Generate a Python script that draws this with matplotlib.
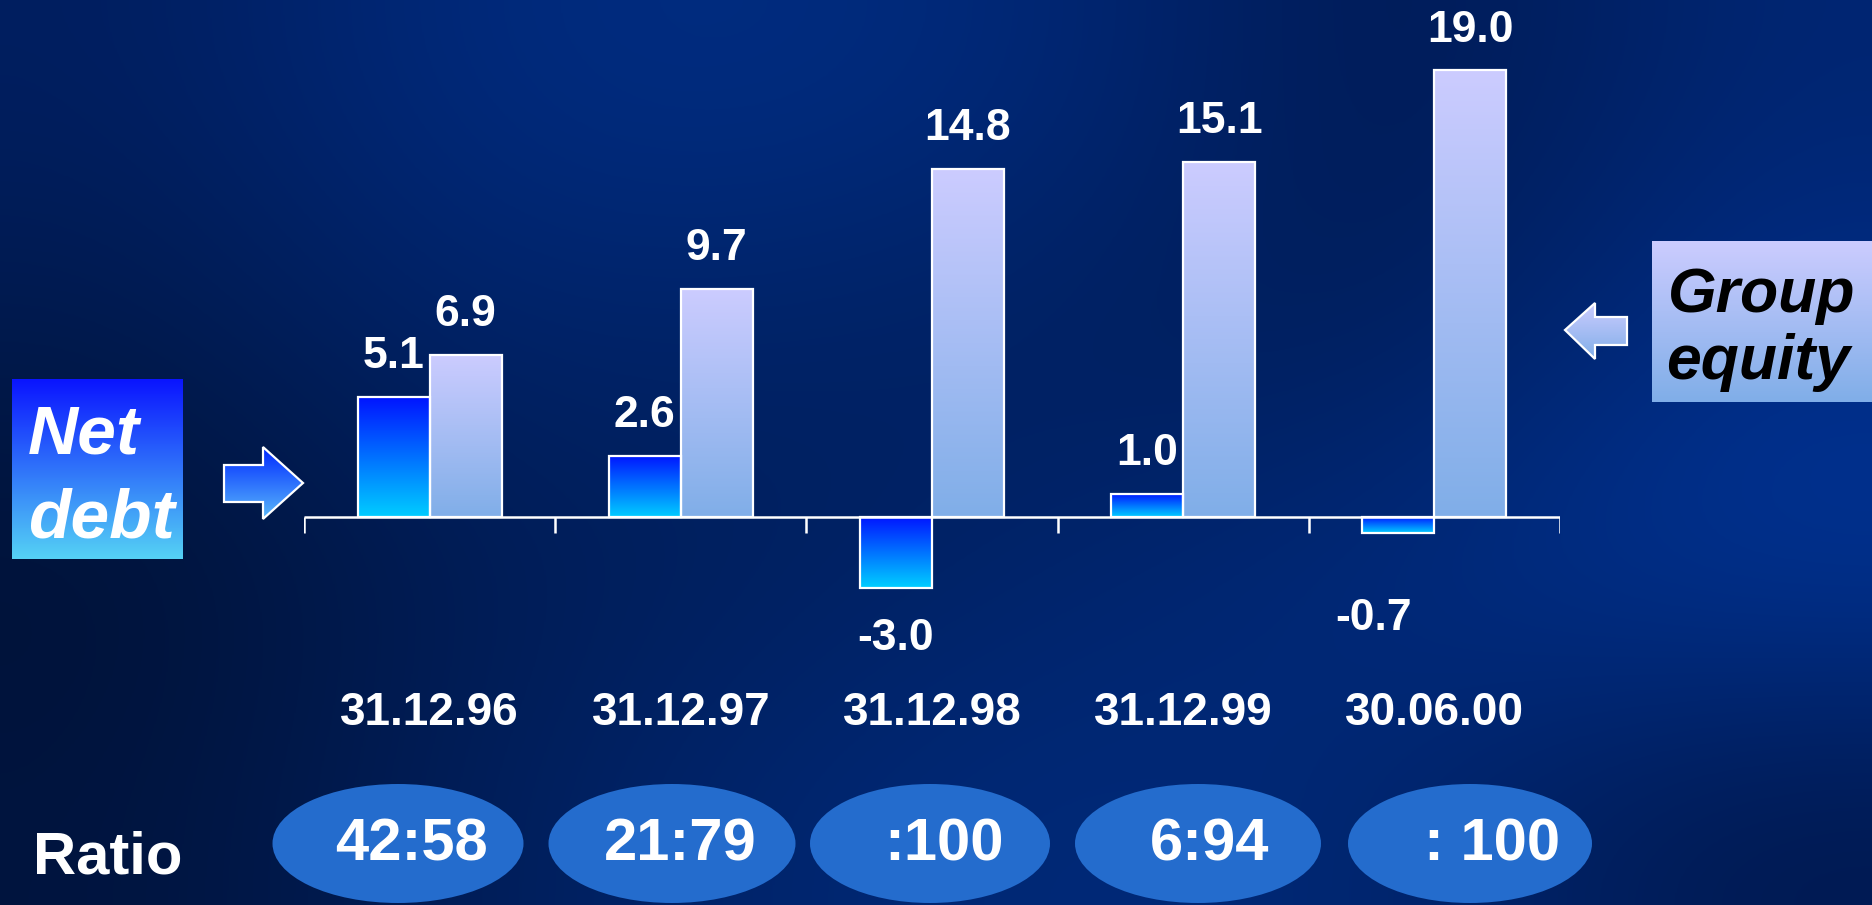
import numpy as np
import matplotlib
matplotlib.use("Agg")
import matplotlib.pyplot as plt
from matplotlib.patches import Polygon, Ellipse

plt.rcParams['font.family'] = ['Liberation Sans', 'DejaVu Sans']

# ---------------- data ----------------
categories = ["31.12.96", "31.12.97", "31.12.98", "31.12.99", "30.06.00"]
net_debt = [5.1, 2.6, -3.0, 1.0, -0.7]
group_equity = [6.9, 9.7, 14.8, 15.1, 19.0]
ratios = ["42:58", "21:79", ":100", "6:94", ": 100"]
ratio_title = "Ratio"
net_label = ["Net", "debt"]
equity_label = ["Group", "equity"]

# ---------------- layout (pixels) ----------------
W, H = 1872, 905
PX_PER_UNIT = 23.5
BASE_Y = 517
AX_LEFT, AX_RIGHT = 304, 1560
BAR_W = 72 / 251.0
# per-label pixel offsets (dx, dy) for net-debt labels
net_lab_off = [(0, 20), (0, 20), (0, -31), (0, 20), (-25, -65)]
eq_lab_off = [(0, 20)] * 5
ell_cx = [398, 672, 930, 1198, 1470]
ell_w = [251, 247, 240, 246, 244]
ell_cy, ell_h = 843.5, 119
ratio_tx = [412, 680, 944, 1210, 1492]

NET_TOP, NET_BOT = (0/255, 20/255, 1.0), (0/255, 205/255, 1.0)
EQ_TOP, EQ_BOT = (204/255, 204/255, 1.0), (128/255, 174/255, 232/255)
ELL_COL = '#246CCD'

fig = plt.figure(figsize=(W / 100, H / 100), dpi=100)

# ---------------- background ----------------
bg = fig.add_axes([0, 0, 1, 1])
bg.set_axis_off()
grid = np.array([
    [(0, 30, 95), (0, 42, 125), (0, 45, 130), (0, 38, 115), (0, 25, 80), (0, 38, 115)],
    [(0, 25, 75), (0, 35, 105), (0, 34, 100), (0, 32, 95), (0, 30, 90), (0, 45, 135)],
    [(0, 18, 55), (0, 28, 85), (0, 32, 95), (0, 36, 108), (0, 42, 125), (0, 52, 150)],
    [(0, 20, 62), (0, 30, 90), (0, 38, 112), (0, 42, 122), (0, 38, 112), (0, 25, 80)],
]) / 255.0
bg.imshow(grid, extent=[0, W, H, 0], interpolation='bicubic', aspect='auto')
bg.set_xlim(0, W)
bg.set_ylim(H, 0)


def grad(c1, c2, n=256):
    return np.linspace(np.array(c1), np.array(c2), n)[:, None, :]


# ---------------- chart axes ----------------
ax = fig.add_axes([AX_LEFT / W, 0, (AX_RIGHT - AX_LEFT) / W, 1])
ax.patch.set_alpha(0)
ax.set_axis_off()
ymin = -(H - BASE_Y) / PX_PER_UNIT
ymax = BASE_Y / PX_PER_UNIT

x = np.arange(len(categories))
nb = ax.bar(x - BAR_W / 2, net_debt, BAR_W, facecolor='none',
            edgecolor='white', linewidth=1.6, zorder=4)
eb = ax.bar(x + BAR_W / 2, group_equity, BAR_W, facecolor='none',
            edgecolor='white', linewidth=1.6, zorder=4)

for bars, ctop, cbot in ((nb, NET_TOP, NET_BOT), (eb, EQ_TOP, EQ_BOT)):
    for r in bars:
        x0, y0 = r.get_x(), r.get_y()
        w, h = r.get_width(), r.get_height()
        top, bot = max(y0, y0 + h), min(y0, y0 + h)
        im = ax.imshow(grad(ctop, cbot), extent=[x0, x0 + w, bot, top],
                       aspect='auto', interpolation='bilinear', zorder=3)
        im.set_clip_path(r)

# baseline and ticks
ax.plot([-0.5, len(categories) - 0.5], [0, 0], color='white', lw=1.8, zorder=5,
        solid_capstyle='butt')
bounds = np.arange(len(categories) + 1) - 0.5
ax.vlines(bounds, -16 / PX_PER_UNIT, 0, color='white', lw=1.8, zorder=5)

ax.set_xlim(-0.5, len(categories) - 0.5)
ax.set_ylim(ymin, ymax)

lab_kw = dict(color='white', fontsize=32, fontweight='bold', ha='center')
for i, v in enumerate(net_debt):
    dx, dy = net_lab_off[i]
    ax.annotate(f"{v:.1f}", (x[i] - BAR_W / 2, v), xytext=(dx * 0.72, dy * 0.72),
                textcoords='offset points', va='bottom' if dy > 0 else 'top', **lab_kw)
for i, v in enumerate(group_equity):
    dx, dy = eq_lab_off[i]
    ax.annotate(f"{v:.1f}", (x[i] + BAR_W / 2, v), xytext=(dx * 0.72, dy * 0.72),
                textcoords='offset points', va='bottom', **lab_kw)

# category labels
for i, c in enumerate(categories):
    ax.text(x[i], (H - 725) / H, c, transform=ax.get_xaxis_transform(),
            ha='center', va='baseline', color='white', fontsize=33, fontweight='bold')

# ---------------- overlay (pixel coordinates) ----------------
ov = fig.add_axes([0, 0, 1, 1])
ov.patch.set_alpha(0)
ov.set_axis_off()
ov.set_xlim(0, W)
ov.set_ylim(H, 0)

# ratio ellipses
for cx, w, t, tx in zip(ell_cx, ell_w, ratios, ratio_tx):
    ov.add_patch(Ellipse((cx, ell_cy), w, ell_h, facecolor=ELL_COL, edgecolor='none'))
    ov.text(tx, 860, t, ha='center', va='baseline', color='white',
            fontsize=43, fontweight='bold')
ov.text(33, 873, ratio_title, ha='left', va='baseline', color='white',
        fontsize=43, fontweight='bold')

# Net debt box
ov.imshow(grad((10/255, 20/255, 1.0), (85/255, 210/255, 245/255)),
          extent=[12, 183, 559, 379], aspect='auto', interpolation='bilinear')
ov.text(28, 453, net_label[0], ha='left', va='baseline', color='white',
        fontsize=50, fontweight='bold', fontstyle='italic')
ov.text(28, 537, net_label[1], ha='left', va='baseline', color='white',
        fontsize=50, fontweight='bold', fontstyle='italic')

# Group equity box
ov.imshow(grad(EQ_TOP, EQ_BOT), extent=[1652, 1872, 402, 241],
          aspect='auto', interpolation='bilinear')
ov.text(1668, 312, equity_label[0], ha='left', va='baseline', color='black',
        fontsize=45, fontweight='bold', fontstyle='italic')
ov.text(1666, 379, equity_label[1], ha='left', va='baseline', color='black',
        fontsize=45, fontweight='bold', fontstyle='italic')

# arrows
ra = [(224, 465), (263, 465), (263, 447), (303, 483), (263, 519), (263, 502), (224, 502)]
la = [(1627, 317), (1595, 317), (1595, 303), (1565, 330), (1595, 359), (1595, 345), (1627, 345)]
for verts, c1, c2 in ((ra, (0, 40/255, 1.0), (90/255, 185/255, 250/255)),
                      (la, EQ_TOP, EQ_BOT)):
    xs = [v[0] for v in verts]
    ys = [v[1] for v in verts]
    poly = Polygon(verts, closed=True, facecolor='none', edgecolor='white',
                   linewidth=1.6, zorder=3)
    ov.add_patch(poly)
    im = ov.imshow(grad(c1, c2), extent=[min(xs), max(xs), max(ys), min(ys)],
                   aspect='auto', interpolation='bilinear', zorder=2)
    im.set_clip_path(poly)

ov.set_xlim(0, W)
ov.set_ylim(H, 0)

fig.savefig("out.png", dpi=100)
